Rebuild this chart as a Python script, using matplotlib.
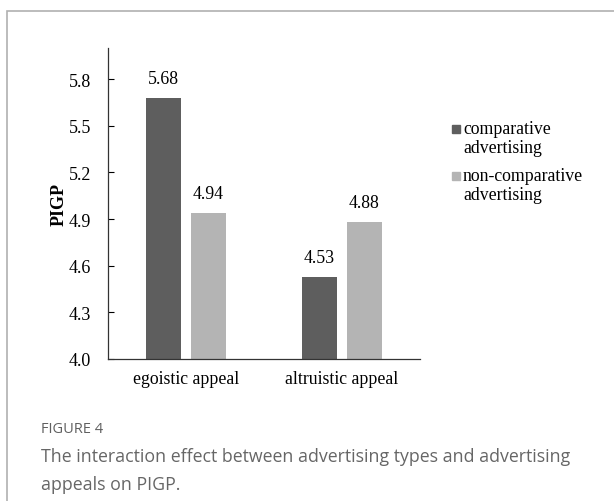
import numpy as np
import matplotlib.pyplot as plt
from matplotlib.patches import Rectangle

appeals = ['egoistic appeal', 'altruistic appeal']
comparative = [5.68, 4.53]
non_comparative = [4.94, 4.88]
series_names = ['comparative\nadvertising', 'non-comparative\nadvertising']
yticks = [4.0, 4.3, 4.6, 4.9, 5.2, 5.5, 5.8]

dark = '#5e5e5e'
light = '#b4b4b4'
serif = 'Liberation Serif'

fig = plt.figure(figsize=(6.14, 5.02), dpi=100)

# outer frame of the figure panel
fig.patches.append(Rectangle((7/614, -0.1), 1.2, 1 - 12/502 + 0.1, transform=fig.transFigure,
                             fill=False, edgecolor='#b0b0b0', linewidth=1.2))

ax = fig.add_axes([108/614, 1 - 360/502, 312/614, 311/502])
x = np.arange(len(appeals))
w = 0.224
off = 0.144
b1 = ax.bar(x - off, comparative, w, color=dark)
b2 = ax.bar(x + off, non_comparative, w, color=light)

for bars, vals in [(b1, comparative), (b2, non_comparative)]:
    for b, v in zip(bars, vals):
        ax.text(b.get_x() + b.get_width()/2, v + 0.07, '%.2f' % v, ha='center', va='bottom',
                family=serif, fontsize=12.8)

ax.set_ylim(4.0, 6.0)
ax.set_xlim(-0.5, 1.5)
ax.set_yticks(yticks)
ax.set_yticklabels(['%.1f' % t for t in yticks], family=serif, fontsize=13)
ax.set_xticks(x)
ax.set_xticklabels(appeals, family=serif, fontsize=12.8)
ax.tick_params(axis='y', direction='in', length=4, width=0.8, pad=12)
ax.tick_params(axis='x', length=0, pad=8)
ax.spines['top'].set_visible(False)
ax.spines['right'].set_visible(False)
for s in ['left', 'bottom']:
    ax.spines[s].set_color('#333333')
    ax.spines[s].set_linewidth(0.9)
ax.set_ylabel('PIGP', family=serif, fontweight='bold', fontsize=13, labelpad=1)

# legend: square marker beside the first line of each two-line label
leg_y = [130, 177]
for name, col, yy in zip(series_names, [dark, light], leg_y):
    fig.patches.append(Rectangle((452/614, 1 - (yy + 4)/502), 8/614, 8/502,
                                 transform=fig.transFigure, color=col))
    fig.text(463/614, 1 - (yy - 9)/502, name, family=serif, fontsize=12.8, va='top',
             linespacing=1.18)

fig.text(41/614, 1 - 430/502, 'FIGURE 4', family='Open Sans', fontsize=10.5, color='#606060', va='center')
fig.text(41/614, 1 - 471/502, 'The interaction effect between advertising types and advertising\nappeals on PIGP.',
         family='Open Sans', fontsize=12.8, color='#666666', va='center', linespacing=1.72)

fig.savefig('out.png', dpi=100)
